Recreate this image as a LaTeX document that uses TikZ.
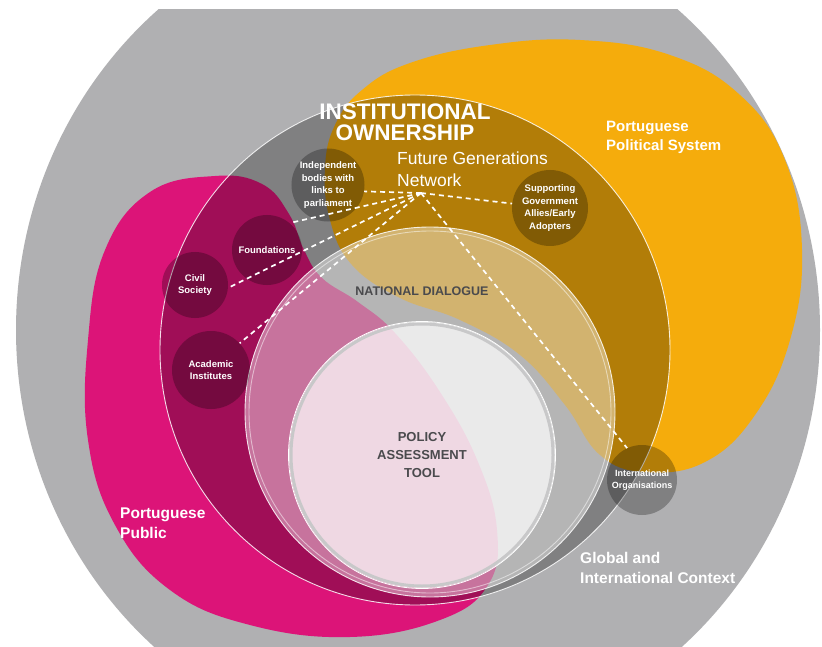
\documentclass[tikz,border=0pt]{standalone}
\usepackage{fontspec}
\setmainfont{Liberation Sans}
\definecolor{ctxgray}{HTML}{B0B0B2}
\definecolor{pubpink}{HTML}{DC1478}
\definecolor{polorange}{HTML}{F5AC0C}
\definecolor{labelgray}{HTML}{4A4A4D}

\begin{document}
\begin{tikzpicture}[x=1pt, y=-1pt]
    % Define styles
    \tikzset{member/.style={circle, fill=black, fill opacity=0.27, text opacity=1, text=white, inner sep=0pt, align=center, font=\bfseries\fontsize{9.5}{12.5}\selectfont}}
    \tikzset{link/.style={white, line width=1.7pt, dash pattern=on 5pt off 4pt}}
    \tikzset{ringline/.style={white, line width=0.9pt, draw opacity=0.85}}
    \tikzset{areatext/.style={text=white, align=left, inner sep=0pt, font=\bfseries\fontsize{15.5}{20}\selectfont}}
    \tikzset{coretext/.style={text=labelgray, align=center, inner sep=0pt, font=\bfseries\fontsize{13}{18}\selectfont}}

    \useasboundingbox (0,0) rectangle (822,647);
    \fill[white] (0,0) rectangle (822,647);

    % Draw global context
    \begin{scope}
        \clip (0,10) rectangle (822,647);
        \fill[ctxgray] (418,330) ellipse [x radius=402pt, y radius=420pt];
    \end{scope}

    % Draw public and political system
    \fill[pubpink] plot[smooth cycle, tension=0.7] coordinates {(150,192) (215,176) (262,184) (289,214) (304,250) (322,278) (358,302) (395,333) (440,392) (478,462) (497,530) (488,585) (440,620) (350,637) (250,625) (170,590) (115,525) (88,440) (88,340) (105,250)};
    \fill[polorange] plot[smooth cycle, tension=0.7] coordinates {(335,125) (362,90) (410,63) (490,45) (580,40) (670,55) (740,95) (785,160) (802,250) (790,340) (755,415) (705,462) (645,472) (600,455) (565,405) (520,355) (460,320) (400,298) (352,265) (330,220) (325,168)};

    % Draw nested circles
    \fill[black, fill opacity=0.27] (415,350) circle [radius=255pt];
    \draw[ringline] (415,350) circle [radius=255pt];
    \fill[white, fill opacity=0.42] (430,412) circle [radius=185pt];
    \draw[ringline] (430,412) circle [radius=185pt];
    \draw[ringline, draw opacity=0.5] (430,412) circle [radius=181pt];
    \fill[white, fill opacity=0.72] (422,455) circle [radius=133pt];
    \draw[ctxgray!70!white, line width=3pt] (422,455) circle [radius=131pt];
    \draw[white, line width=0.8pt] (422,455) circle [radius=133.5pt];

    % Draw network members
    \node[member, minimum size=72pt] (indep) at (328,185) {Independent\\bodies with\\links to\\parliament};
    \node[member, minimum size=70pt] (found) at (267,250) {Foundations};
    \node[member, minimum size=66pt] (civil) at (195,285) {Civil\\Society};
    \node[member, minimum size=78pt] (acad) at (211,370) {Academic\\Institutes};
    \node[member, minimum size=76pt] (supp) at (550,208) {Supporting\\Government\\Allies/Early\\Adopters};
    \node[member, minimum size=70pt, font=\bfseries\fontsize{9}{12}\selectfont] (intl) at (642,480) {International\\Organisations};

    % Connect network to members
    \coordinate (hub) at (421,193);
    \draw[link] (hub) -- (indep.-10);
    \draw[link] (hub) -- (found.50);
    \draw[link] (hub) -- (civil.-5);
    \draw[link] (hub) -- (acad.43);
    \draw[link] (hub) -- (supp);
    \draw[link] (hub) -- (intl.115);

    % Draw labels
    \node[areatext, align=center, font=\bfseries\fontsize{22.5}{21}\selectfont] (ownership) at (405,122.5) {INSTITUTIONAL\\OWNERSHIP};
    \node[areatext, anchor=west, font=\fontsize{17.5}{22}\selectfont] (network) at (397,169.5) {Future Generations\\Network};
    \node[areatext, anchor=west, font=\bfseries\fontsize{15}{19}\selectfont] (polsys) at (606,137) {Portuguese\\Political System};
    \node[coretext, font=\bfseries\fontsize{12.5}{15}\selectfont] (dialogue) at (422,291) {NATIONAL DIALOGUE};
    \node[coretext] (tool) at (422,455) {POLICY\\ASSESSMENT\\TOOL};
    \node[areatext, anchor=west] (public) at (120,523) {Portuguese\\Public};
    \node[areatext, anchor=west] (context) at (580,568) {Global and\\International Context};
\end{tikzpicture}
\end{document}
